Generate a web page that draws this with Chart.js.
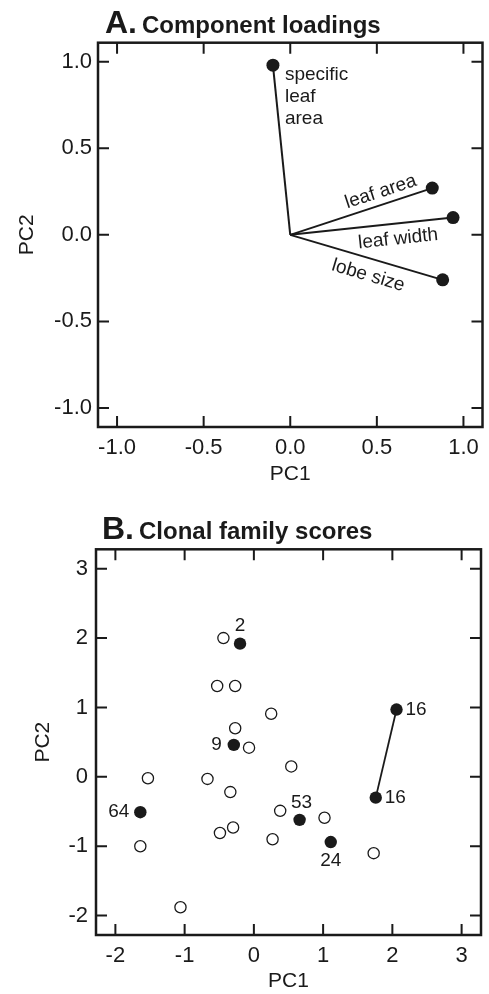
<!DOCTYPE html>
<html>
<head>
<meta charset="utf-8">
<title>Component loadings and clonal family scores</title>
<script src="https://cdn.jsdelivr.net/npm/chart.js@4.4.1/dist/chart.umd.min.js"></script>
<style>
  html, body { margin: 0; padding: 0; background: #fff; }
  #page { position: relative; width: 489px; height: 994px; font-family: "Liberation Sans", Arial, sans-serif; color: #1a1a1a; }
  .panel-title { position: absolute; z-index: 2; display: flex; align-items: baseline; font-weight: bold; line-height: 1; white-space: nowrap; }
  .panel-title .letter { font-size: 32px; }
  .panel-title .name { font-size: 24px; margin-left: 5px; }
  canvas { position: absolute; left: 0; }
</style>
</head>
<body>
<div id="page">
  <div class="panel-title" style="left:105px; top:6px;"><span class="letter">A.</span><span class="name">Component loadings</span></div>
  <canvas id="loadingsChart" width="489" height="490" style="top:0"></canvas>
  <div class="panel-title" style="left:102px; top:512px;"><span class="letter">B.</span><span class="name">Clonal family scores</span></div>
  <canvas id="scoresChart" width="489" height="504" style="top:490px"></canvas>
</div>
<script>
const INK = '#1a1a1a';
const FONT = '"Liberation Sans", Arial, sans-serif';

// A. component loadings (PC1, PC2 of each trait)
const traits = ['specific leaf area', 'leaf area', 'leaf width', 'lobe size'];
const loadingPC1 = [-0.10, 0.82, 0.94, 0.88];
const loadingPC2 = [0.98, 0.27, 0.10, -0.26];
const loadingTicks = [-1.0, -0.5, 0.0, 0.5, 1.0];

// B. clonal family scores
const otherPC1 = [-0.44, -0.53, -0.27, 0.25, -0.27, -0.07, 0.54, -1.53, -0.67, -0.34, 0.38, 1.02, -0.30, -0.49, 0.27, -1.64, 1.73, -1.06];
const otherPC2 = [2.00, 1.31, 1.31, 0.91, 0.70, 0.42, 0.15, -0.02, -0.03, -0.22, -0.49, -0.59, -0.73, -0.81, -0.90, -1.00, -1.10, -1.88];
const familyIds = ['2', '9', '16', '16', '64', '53', '24'];
const familyPC1 = [-0.20, -0.29, 2.06, 1.76, -1.64, 0.66, 1.11];
const familyPC2 = [1.92, 0.46, 0.97, -0.30, -0.51, -0.62, -0.94];
const scoreTicks = [-2, -1, 0, 1, 2, 3];

// box with inward tick marks on all four sides
const framePlugin = {
  id: 'frame',
  afterDraw(chart) {
    const { ctx, chartArea: a, scales: { x, y } } = chart;
    ctx.save();
    ctx.strokeStyle = INK;
    ctx.lineWidth = 2;
    ctx.beginPath();
    x.ticks.forEach(t => {
      const px = x.getPixelForValue(t.value);
      ctx.moveTo(px, a.top); ctx.lineTo(px, a.top + 11);
      ctx.moveTo(px, a.bottom); ctx.lineTo(px, a.bottom - 11);
    });
    y.ticks.forEach(t => {
      const py = y.getPixelForValue(t.value);
      ctx.moveTo(a.left, py); ctx.lineTo(a.left + 11, py);
      ctx.moveTo(a.right, py); ctx.lineTo(a.right - 11, py);
    });
    ctx.stroke();
    ctx.lineWidth = 2.5;
    ctx.strokeRect(a.left, a.top, a.right - a.left, a.bottom - a.top);
    ctx.restore();
  }
};

function axis(tickValues, digits, title, fitSize, labelPad, titlePad) {
  return {
    type: 'linear',
    min: 0, max: 0,
    afterBuildTicks: s => { s.ticks = tickValues.map(v => ({ value: v })); },
    afterFit: s => { if (s.isHorizontal()) s.height = fitSize; else s.width = fitSize; },
    grid: { display: false, drawTicks: false },
    border: { display: false },
    ticks: {
      color: INK, padding: labelPad,
      font: { family: FONT, size: 22 },
      callback: v => Number(v).toFixed(digits)
    },
    title: { display: true, text: title, color: INK, padding: titlePad, font: { family: FONT, size: 21 } }
  };
}

// ---- panel A ----
const vectorLabelPlace = [null, { t: 0.665, d: 12.5 }, { t: 0.652, d: -15.5 }, { t: 0.543, d: -17 }];

const loadingLabelPlugin = {
  id: 'loadingLabels',
  afterDatasetsDraw(chart) {
    const { ctx, scales: { x, y } } = chart;
    const ox = x.getPixelForValue(0), oy = y.getPixelForValue(0);
    ctx.save();
    ctx.fillStyle = INK;
    ctx.font = '19px ' + FONT;
    ctx.textBaseline = 'middle';
    traits.forEach((name, i) => {
      const tx = x.getPixelForValue(loadingPC1[i]), ty = y.getPixelForValue(loadingPC2[i]);
      if (!vectorLabelPlace[i]) {
        ctx.textAlign = 'left';
        name.split(' ').forEach((w, k) => ctx.fillText(w, tx + 12, ty + 10 + k * 21.7));
        return;
      }
      const p = vectorLabelPlace[i];
      const dx = tx - ox, dy = ty - oy, len = Math.hypot(dx, dy);
      const ux = dx / len, uy = dy / len;
      const cx = ox + dx * p.t + uy * p.d, cy = oy + dy * p.t - ux * p.d;
      ctx.save();
      ctx.translate(cx, cy);
      ctx.rotate(Math.atan2(dy, dx));
      ctx.textAlign = 'center';
      ctx.fillText(name, 0, 0);
      ctx.restore();
    });
    ctx.restore();
  }
};

const xA = axis(loadingTicks, 1, 'PC1', 63, 8, { top: 3.4, bottom: 3.4 });
xA.min = -1.11; xA.max = 1.11;
const yA = axis(loadingTicks, 1, 'PC2', 98, 6, { top: 15, bottom: 15 });
yA.min = -1.11; yA.max = 1.11;

new Chart(document.getElementById('loadingsChart'), {
  type: 'scatter',
  data: {
    datasets: traits.map((name, i) => ({
      label: name,
      data: [{ x: 0, y: 0 }, { x: loadingPC1[i], y: loadingPC2[i] }],
      showLine: true,
      borderColor: INK,
      borderWidth: 2,
      pointRadius: [0, 6.5],
      pointBackgroundColor: INK,
      pointBorderWidth: 0
    }))
  },
  options: {
    responsive: false,
    animation: false,
    layout: { padding: { top: 42.7, right: 6, bottom: 0, left: 0 } },
    plugins: { legend: { display: false }, tooltip: { enabled: false } },
    scales: { x: xA, y: yA }
  },
  plugins: [framePlugin, loadingLabelPlugin]
});

// ---- panel B ----
const familyLabelPlace = [
  { dx: 0, dy: -18, align: 'center' },
  { dx: -12, dy: 0, align: 'right' },
  { dx: 9, dy: 0, align: 'left' },
  { dx: 9, dy: 0, align: 'left' },
  { dx: -11, dy: 0, align: 'right' },
  { dx: 2, dy: -17, align: 'center' },
  { dx: 0, dy: 19, align: 'center' }
];

const familyLabelPlugin = {
  id: 'familyLabels',
  afterDatasetsDraw(chart) {
    const { ctx, scales: { x, y } } = chart;
    ctx.save();
    ctx.fillStyle = INK;
    ctx.font = '19px ' + FONT;
    ctx.textBaseline = 'middle';
    familyIds.forEach((id, i) => {
      const p = familyLabelPlace[i];
      ctx.textAlign = p.align;
      ctx.fillText(id, x.getPixelForValue(familyPC1[i]) + p.dx, y.getPixelForValue(familyPC2[i]) + p.dy);
    });
    ctx.restore();
  }
};

const xB = axis(scoreTicks, 0, 'PC1', 59, 7.5, { top: 0, bottom: 0 });
xB.min = -2.28; xB.max = 3.28;
const yB = axis(scoreTicks, 0, 'PC2', 96, 8, { top: 31, bottom: 31 });
yB.min = -2.28; yB.max = 3.28;

// the two samples of family 16 are joined
const joined = familyIds.map((id, i) => i).filter(i => familyIds[i] === '16');

new Chart(document.getElementById('scoresChart'), {
  type: 'scatter',
  data: {
    datasets: [
      {
        label: 'family 16',
        data: joined.map(i => ({ x: familyPC1[i], y: familyPC2[i] })),
        showLine: true,
        borderColor: INK,
        borderWidth: 1.8,
        pointRadius: 0
      },
      {
        label: 'other families',
        data: otherPC1.map((v, i) => ({ x: v, y: otherPC2[i] })),
        pointRadius: 5.6,
        pointBackgroundColor: '#fff',
        pointBorderColor: INK,
        pointBorderWidth: 1.3
      },
      {
        label: 'labelled families',
        data: familyPC1.map((v, i) => ({ x: v, y: familyPC2[i] })),
        pointRadius: 6.2,
        pointBackgroundColor: INK,
        pointBorderWidth: 0
      }
    ]
  },
  options: {
    responsive: false,
    animation: false,
    layout: { padding: { top: 59.3, right: 8, bottom: 0, left: 0 } },
    plugins: { legend: { display: false }, tooltip: { enabled: false } },
    scales: { x: xB, y: yB }
  },
  plugins: [framePlugin, familyLabelPlugin]
});
</script>
</body>
</html>
